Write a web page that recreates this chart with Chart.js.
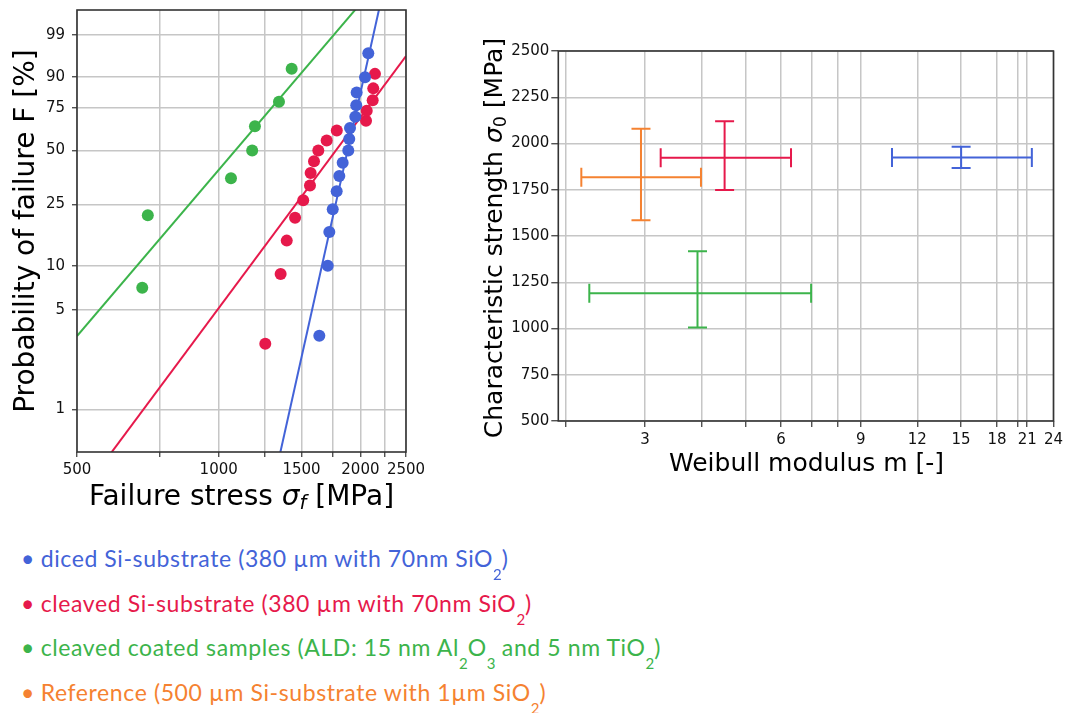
<!DOCTYPE html>
<html>
<head>
<meta charset="utf-8">
<title>Weibull analysis</title>
<script src="https://cdn.jsdelivr.net/npm/chart.js@4.4.1/dist/chart.umd.min.js"></script>
<style>
  html, body { margin: 0; padding: 0; background: #fff; }
  #wrap { position: relative; width: 1067px; height: 713px; overflow: hidden; font-family: 'DejaVu Sans', sans-serif; }
  canvas { position: absolute; top: 0; }
  .axis-title { position: absolute; white-space: nowrap; text-align: center; color: #000; }
  .axis-title sub { font-size: 0.7em; vertical-align: baseline; position: relative; top: 0.22em; }
  .legend { position: absolute; left: 21px; font-family: Lato, sans-serif; font-size: 23px; line-height: 23px; letter-spacing: 0.6px; white-space: nowrap; }
  .legend .dot { display: inline-block; width: 19.7px; }
  .legend sub { font-size: 15px; vertical-align: baseline; position: relative; top: 13px; letter-spacing: 0; }
</style>
</head>
<body>
<div id="wrap">
  <canvas id="weibullChart" width="430" height="480" style="left:0"></canvas>
  <canvas id="paramChart" width="627" height="480" style="left:440px"></canvas>

  <div class="axis-title" style="left:77px;width:329px;top:482px;font-size:28px;line-height:28px">Failure stress <i>σ<sub>f</sub></i> [MPa]</div>
  <div class="axis-title" style="left:-195.7px;width:442px;top:216.9px;font-size:28px;line-height:28px;transform:rotate(-90deg)">Probability of failure F [%]</div>
  <div class="axis-title" style="left:558px;width:497px;top:450px;font-size:25px;line-height:25px">Weibull modulus m [-]</div>
  <div class="axis-title" style="left:245.4px;width:500px;top:223.5px;font-size:25px;line-height:25px;transform:rotate(-90deg)">Characteristic strength <i>σ</i><sub>0</sub> [MPa]</div>

  <div class="legend" style="top:546.9px;color:#4363d8"><span class="dot">•</span>diced Si-substrate (380 µm with 70nm SiO<sub>2</sub>)</div>
  <div class="legend" style="top:592.3px;color:#e6194b"><span class="dot">•</span>cleaved Si-substrate (380 µm with 70nm SiO<sub>2</sub>)</div>
  <div class="legend" style="top:636.3px;color:#3cb44b"><span class="dot">•</span>cleaved coated samples (ALD: 15 nm Al<sub>2</sub>O<sub>3</sub> and 5 nm TiO<sub>2</sub>)</div>
  <div class="legend" style="top:681.3px;color:#f58231"><span class="dot">•</span>Reference (500 µm Si-substrate with 1µm SiO<sub>2</sub>)</div>
</div>

<script>
// Failure stress [MPa] and probability of failure [%]
const dicedStress = [1636, 1705, 1718, 1747, 1781, 1804, 1834, 1885, 1894, 1901, 1951, 1960, 1964, 2046, 2079];
const dicedProb = [3.3, 10.0, 16.7, 23.3, 30.0, 36.7, 43.3, 50.0, 56.7, 63.3, 70.0, 76.7, 83.3, 90.0, 96.7];
const cleavedStress = [1256, 1354, 1395, 1453, 1512, 1563, 1568, 1594, 1628, 1696, 1782, 2056, 2063, 2124, 2130, 2148];
const cleavedProb = [2.9, 8.8, 14.7, 20.6, 26.5, 32.4, 38.2, 44.1, 50.0, 55.9, 61.8, 67.6, 73.5, 79.4, 85.3, 91.2];
const coatedStress = [688, 707, 1062, 1178, 1194, 1343, 1429];
const coatedProb = [7.1, 21.4, 35.7, 50.0, 64.3, 78.6, 92.9];

// Weibull parameters with confidence ranges: diced, cleaved, coated, reference
const modulus = [15.0, 4.5, 3.92, 2.94];
const modulusLow = [10.55, 3.25, 2.26, 2.17];
const modulusHigh = [21.5, 6.31, 6.99, 3.99];
const charStrength = [1925, 1923, 1190, 1817];
const charStrengthLow = [1867, 1748, 1005, 1585];
const charStrengthHigh = [1982, 2120, 1418, 2080];
const seriesColors = ['#4363d8', '#e6194b', '#3cb44b', '#f58231'];

// Axis ranges and ticks
const stressRange = [500, 2500];
const stressGrid = [500, 750, 1000, 1250, 1500, 1750, 2000, 2250, 2500];
const stressLabels = [500, 1000, 1500, 2000, 2500];
const probRange = [0.5, 99.9];
const probTicks = [1, 5, 10, 25, 50, 75, 90, 99];
const modulusRange = [1.93, 24];
const modulusGrid = [2, 3, 4, 5, 6, 7, 8, 9, 12, 15, 18, 20, 21, 24];
const modulusLabels = [3, 6, 9, 12, 15, 18, 21, 24];
const strengthRange = [500, 2500];

Chart.defaults.font.family = "'DejaVu Sans', sans-serif";
Chart.defaults.font.size = 15;
Chart.defaults.color = '#111';

// Weibull probability paper: ln(-ln(1-F))
const weib = (p) => Math.log(-Math.log(1 - p / 100));

const gridStyle = { color: '#c6c6c6', lineWidth: 1.5, tickColor: '#333', tickWidth: 1.2 };

// Full box around the plot area
const frame = {
  id: 'frame',
  afterDraw(chart) {
    const { ctx, chartArea: a } = chart;
    ctx.save();
    ctx.strokeStyle = '#333';
    ctx.lineWidth = 1.6;
    ctx.strokeRect(a.left, a.top, a.right - a.left, a.bottom - a.top);
    ctx.restore();
  },
};

// Cross-shaped error bars with caps
const errorBars = {
  id: 'errorBars',
  afterDatasetsDraw(chart) {
    const { ctx, scales: { x, y } } = chart;
    const cap = 9.5;
    ctx.save();
    ctx.lineWidth = 2;
    chart.data.datasets.forEach((ds) => {
      ds.data.forEach((d) => {
        const px = x.getPixelForValue(d.x);
        const py = y.getPixelForValue(d.y);
        const x0 = x.getPixelForValue(d.xMin);
        const x1 = x.getPixelForValue(d.xMax);
        const y0 = y.getPixelForValue(d.yMin);
        const y1 = y.getPixelForValue(d.yMax);
        ctx.strokeStyle = ds.borderColor;
        ctx.beginPath();
        ctx.moveTo(x0, py); ctx.lineTo(x1, py);
        ctx.moveTo(px, y0); ctx.lineTo(px, y1);
        ctx.moveTo(x0, py - cap); ctx.lineTo(x0, py + cap);
        ctx.moveTo(x1, py - cap); ctx.lineTo(x1, py + cap);
        ctx.moveTo(px - cap, y0); ctx.lineTo(px + cap, y0);
        ctx.moveTo(px - cap, y1); ctx.lineTo(px + cap, y1);
        ctx.stroke();
      });
    });
    ctx.restore();
  },
};

const pointSets = [
  [dicedStress, dicedProb],
  [cleavedStress, cleavedProb],
  [coatedStress, coatedProb],
];

// Measured points
const pointDatasets = pointSets.map(([stress, prob], k) => ({
  data: stress.map((s, i) => ({ x: s, y: weib(prob[i]) })),
  backgroundColor: seriesColors[k],
  pointRadius: 6,
  pointBorderWidth: 0,
  order: 1,
}));

// Fitted Weibull lines from m and sigma0
const fitDatasets = pointSets.map((_, k) => ({
  data: stressRange.map((s) => ({ x: s, y: modulus[k] * Math.log(s / charStrength[k]) })),
  showLine: true,
  borderColor: seriesColors[k],
  borderWidth: 2,
  pointRadius: 0,
  order: 5,
}));

new Chart(document.getElementById('weibullChart'), {
  type: 'scatter',
  data: { datasets: [...fitDatasets, ...pointDatasets] },
  plugins: [frame],
  options: {
    responsive: false,
    animation: false,
    events: [],
    layout: { padding: { top: 10, right: 24, left: 0, bottom: 0 } },
    plugins: { legend: { display: false }, tooltip: { enabled: false } },
    scales: {
      x: {
        type: 'logarithmic',
        min: stressRange[0],
        max: stressRange[1],
        afterBuildTicks: (scale) => { scale.ticks = stressGrid.map((v) => ({ value: v })); },
        afterFit: (scale) => { scale.height = 28; },
        ticks: {
          autoSkip: false,
          maxRotation: 0,
          padding: 4,
          callback: (v) => (stressLabels.includes(v) ? String(v) : ''),
        },
        grid: { ...gridStyle, tickLength: 5 },
        border: { display: false },
      },
      y: {
        type: 'linear',
        min: weib(probRange[0]),
        max: weib(probRange[1]),
        afterBuildTicks: (scale) => { scale.ticks = probTicks.map((p) => ({ value: weib(p) })); },
        afterFit: (scale) => { scale.width = 77; },
        ticks: { padding: 7, font: { lineHeight: 0.4 }, callback: (v, i) => String(probTicks[i]) },
        grid: { ...gridStyle, tickLength: 5 },
        border: { display: false },
      },
    },
  },
});

// Weibull modulus vs characteristic strength
const paramDatasets = modulus.map((m, k) => ({
  data: [{
    x: m,
    y: charStrength[k],
    xMin: modulusLow[k],
    xMax: modulusHigh[k],
    yMin: charStrengthLow[k],
    yMax: charStrengthHigh[k],
  }],
  borderColor: seriesColors[k],
  pointRadius: 0,
}));

new Chart(document.getElementById('paramChart'), {
  type: 'scatter',
  data: { datasets: paramDatasets },
  plugins: [errorBars, frame],
  options: {
    responsive: false,
    animation: false,
    events: [],
    layout: { padding: { top: 51, right: 12, left: 0, bottom: 0 } },
    plugins: { legend: { display: false }, tooltip: { enabled: false } },
    scales: {
      x: {
        type: 'logarithmic',
        min: modulusRange[0],
        max: modulusRange[1],
        afterBuildTicks: (scale) => { scale.ticks = modulusGrid.map((v) => ({ value: v })); },
        afterFit: (scale) => { scale.height = 59; },
        ticks: {
          autoSkip: false,
          maxRotation: 0,
          padding: 4,
          callback: (v) => (modulusLabels.includes(v) ? String(v) : ''),
        },
        grid: { ...gridStyle, tickLength: 6 },
        border: { display: false },
      },
      y: {
        type: 'linear',
        min: strengthRange[0],
        max: strengthRange[1],
        afterFit: (scale) => { scale.width = 118.3; },
        ticks: { stepSize: 250, padding: 2, callback: (v) => String(v) },
        grid: { ...gridStyle, tickLength: 7 },
        border: { display: false },
      },
    },
  },
});
</script>
</body>
</html>
